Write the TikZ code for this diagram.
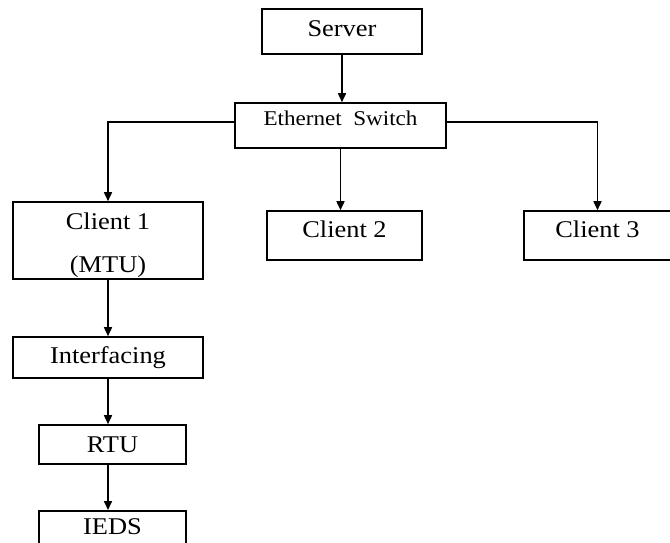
\documentclass[tikz,border=0pt]{standalone}
\usepackage{fontspec}
\setmainfont{Liberation Serif}[FakeStretch=1.1]
\usetikzlibrary{arrows.meta}
\begin{document}
\begin{tikzpicture}[x=1pt,y=-1pt,
  box/.style={draw=black,line width=1.6pt,rectangle,inner sep=0pt,align=center,font=\fontsize{24}{43}\selectfont},
  conn/.style={line width=1.6pt,-{Triangle[width=8pt,length=9pt]}}]
\useasboundingbox (0,0) rectangle (670,542);
\fill[white] (0,0) rectangle (670,542);
\node[box,minimum width=160pt,minimum height=45pt,text height=16pt,text depth=7pt] (server) at (342,31.5) {Server};
\node[box,minimum width=211pt,minimum height=45pt,text height=14pt,text depth=15pt,font=\fontsize{21}{25}\selectfont] (switch) at (340.5,125.5) {Ethernet\ \ Switch};
\node[box,minimum width=190pt,minimum height=77pt,text height=10pt,text depth=33pt] (c1) at (108,240.5) {\vtop{\halign{\hfil#\hfil\cr Client 1\cr (MTU)\cr}}};
\node[box,minimum width=155pt,minimum height=49pt,text height=16pt,text depth=13pt] (c2) at (344.5,235.5) {Client 2};
\node[box,minimum width=147pt,minimum height=49pt,text height=16pt,text depth=13pt] (c3) at (597.5,235.5) {Client 3};
\node[box,minimum width=190pt,minimum height=41pt,text height=16pt,text depth=5pt] (iface) at (108,357.5) {Interfacing};
\node[box,minimum width=147pt,minimum height=39pt,text height=16pt,text depth=1pt] (rtu) at (112.5,444.5) {RTU};
\node[box,minimum width=147pt,minimum height=50pt,text height=16pt,text depth=18pt,anchor=north] (ieds) at (112.5,510) {IEDS};
\draw[conn] (server.south) -- (server.south |- switch.north);
\draw[conn] ([yshift=3.5pt]switch.west) -| (c1.north);
\draw[conn] ([yshift=3.5pt]switch.east) -| (c3.north);
\draw[conn] (switch.south) -- (switch.south |- c2.north);
\draw[conn] (c1.south) -- (c1.south |- iface.north);
\draw[conn] (c1.south |- iface.south) -- (c1.south |- rtu.north);
\draw[conn] (c1.south |- rtu.south) -- (c1.south |- ieds.north);
\end{tikzpicture}
\end{document}
